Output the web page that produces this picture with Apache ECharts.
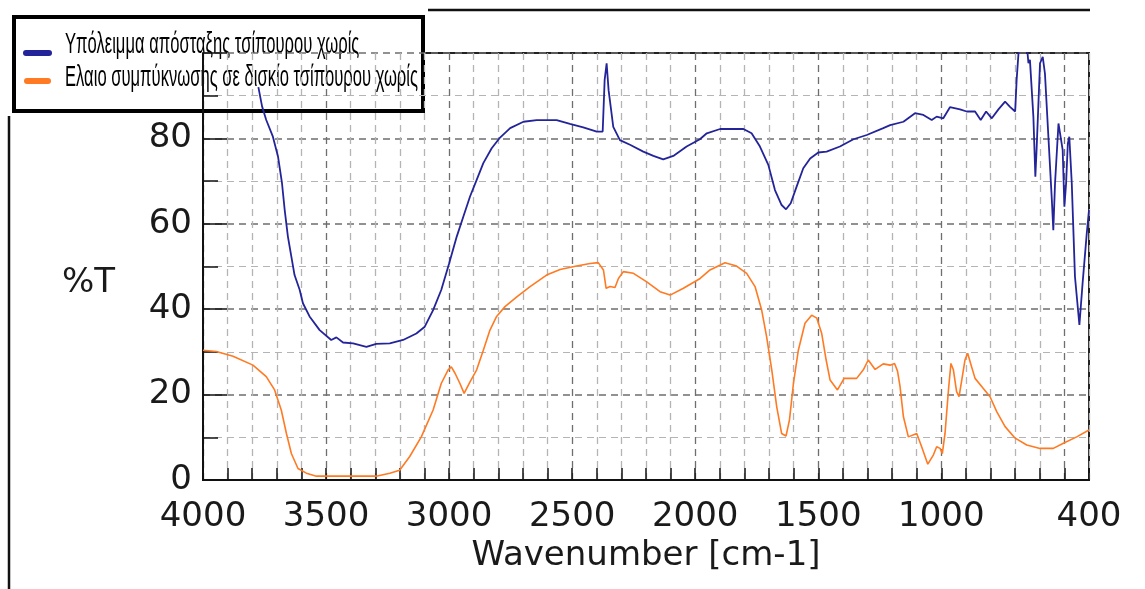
<!DOCTYPE html>
<html><head><meta charset="utf-8">
<script src="https://cdn.jsdelivr.net/npm/echarts@6/dist/echarts.min.js"></script>
<style>html,body{margin:0;padding:0;background:#fff}#c{width:1145px;height:589px}</style>
</head><body><div id="c"></div>
<script>
// ---- data ----
const seriesNames = ['Υπόλειμμα απόσταξης τσίπουρου χωρίς', 'Ελαιο συμπύκνωσης σε δισκίο τσίπουρου χωρίς'];
const seriesColors = ['#24249a', '#ff7a22'];
const residueWavenumber = [3775,3760,3743,3716,3695,3679,3668,3655,3641,3628,3607,3594,3567,3526,3479,3458,3431,3390,3336,3296,3241,3187,3133,3099,3065,3032,3000,2969,2942,2915,2888,2861,2827,2793,2752,2698,2644,2563,2509,2455,2400,2376,2368,2360,2352,2333,2306,2265,2211,2170,2130,2089,2035,1981,1953,1899,1804,1771,1737,1703,1676,1649,1631,1612,1588,1561,1533,1500,1466,1412,1357,1303,1236,1208,1154,1107,1073,1039,1019,992,965,924,897,863,840,818,795,768,741,721,700,694,684,653,646,640,626,618,613,599,588,579,565,551,545,538,524,518,507,500,493,486,480,470,457,439,426,409,400];
const residueT = [92,87.5,84.3,80.4,75.7,69.5,63.2,57.0,52.3,48.0,44.5,41.4,38.3,35.1,32.8,33.4,32.2,32.0,31.2,31.9,32.0,32.8,34.3,35.9,39.8,44.5,50.7,57.0,61.7,66.4,70.3,74.2,77.7,80.2,82.4,83.9,84.3,84.3,83.4,82.6,81.6,81.6,93.7,97.6,91.3,82.7,79.6,78.5,76.9,75.9,75.1,75.9,78.1,79.8,81.2,82.2,82.2,81.2,78.1,73.8,67.9,64.4,63.4,64.8,68.7,73.0,75.3,76.7,76.9,78.1,79.8,80.8,82.4,83.1,83.9,85.9,85.5,84.3,85.1,84.7,87.3,86.8,86.3,86.3,84.3,86.3,84.7,86.8,88.6,87.4,86.3,93.7,102,102,97.6,98.4,85.1,71.0,77.3,97.6,99.1,95.2,80.4,65.6,58.5,69.5,83.5,83.9,77.3,64.0,69.5,78.8,80.4,69.5,47.6,36.3,46.1,57.8,63.2];
const oilWavenumber = [4000,3946,3878,3797,3743,3709,3682,3661,3641,3614,3580,3539,3458,3296,3241,3201,3160,3113,3065,3032,3004,2991,2976,2956,2939,2915,2888,2861,2834,2807,2773,2725,2671,2604,2549,2482,2427,2394,2373,2362,2346,2326,2312,2292,2251,2197,2143,2102,2048,1980,1940,1879,1832,1791,1757,1730,1710,1689,1669,1649,1631,1617,1601,1581,1554,1527,1506,1486,1468,1452,1422,1395,1344,1317,1297,1269,1236,1208,1190,1178,1168,1154,1134,1100,1080,1055,1032,1019,1005,996,985,971,961,951,938,928,917,904,893,881,863,836,802,775,741,700,653,599,545,504,450,400];
const oilT = [30.4,30.1,29.0,26.9,24.2,21.1,16.4,10.9,6.2,2.7,1.6,0.9,0.9,0.9,1.6,2.3,5.5,10.1,16.4,22.6,25.8,26.5,25.0,22.6,20.3,23.0,25.8,30.4,35.1,38.3,40.6,42.9,45.3,48.0,49.3,50.1,50.7,50.9,49.2,44.9,45.3,45.1,47.2,48.8,48.4,46.4,44.1,43.3,44.9,47.2,49.2,50.9,50.1,48.4,45.3,39.8,33.6,25.8,17.2,10.9,10.3,14.1,22.6,30.4,36.7,38.6,37.9,34.3,28.1,23.4,21.1,23.8,23.8,25.8,28.1,25.9,27.2,26.9,27.3,25.5,22.0,14.8,10.1,10.9,7.8,3.7,5.9,7.8,7.4,6.2,10.9,21.1,27.3,25.8,20.7,19.5,23.4,28.1,29.7,27.3,23.8,21.9,19.5,16.0,12.5,9.8,8.2,7.4,7.4,8.6,10.1,11.7];
const xTickLabels = [4000,3500,3000,2500,2000,1500,1000,400];
const yTickLabels = [0,20,40,60,80];
const xTitle = 'Wavenumber [cm-1]';
const yTitle = '%T';

const zip = (a, b) => a.map((v, i) => [v, b[i]]);
const axisFont = 'DejaVu Sans, Liberation Sans, sans-serif';
const dark = '#6e6e6e', light = '#b4b4b4';

// condensed legend text: scale the font horizontally to the reference's width
const legendFont = '30px "Liberation Sans", Arial, sans-serif';
const mctx = document.createElement('canvas').getContext('2d');
mctx.font = legendFont;
const legendScale = 353 / mctx.measureText(seriesNames[1]).width;

const chart = echarts.init(document.getElementById('c'), null, {renderer: 'canvas'});
chart.setOption({
  animation: false,
  backgroundColor: '#fff',
  grid: {left: 203, right: 56, top: 53, bottom: 109, show: true, borderColor: '#222', borderWidth: 2, backgroundColor: 'transparent'},
  xAxis: {
    type: 'value', inverse: true, min: 400, max: 4000, interval: 100,
    name: xTitle, nameLocation: 'middle', nameGap: 58,
    nameTextStyle: {fontFamily: axisFont, fontSize: 34, color: '#1a1a1a'},
    axisLine: {show: true, lineStyle: {color: '#111', width: 2}},
    axisTick: {show: true, inside: true, length: 12, lineStyle: {color: '#111', width: 1.5}},
    axisLabel: {margin: 20, fontFamily: axisFont, fontSize: 34, color: '#1a1a1a',
      formatter: v => xTickLabels.indexOf(v) >= 0 ? String(v) : ''},
    splitLine: {show: true, lineStyle: {color: [light, dark, light, light, light], type: [7, 5], width: 1.3}}
  },
  yAxis: {
    type: 'value', min: 0, max: 100, interval: 20,
    name: yTitle, nameLocation: 'middle', nameRotate: 0, nameGap: 88,
    nameTextStyle: {fontFamily: axisFont, fontSize: 34, color: '#1a1a1a', verticalAlign: 'top'},
    axisLine: {show: true, lineStyle: {color: '#111', width: 2}},
    axisTick: {show: true, inside: true, length: 24, lineStyle: {color: '#111', width: 1.5}},
    minorTick: {show: true, splitNumber: 2, length: 15, lineStyle: {color: '#111', width: 1.5}},
    axisLabel: {margin: 11, fontFamily: axisFont, fontSize: 34, color: '#1a1a1a',
      formatter: v => yTickLabels.indexOf(v) >= 0 ? String(v) : ''},
    splitLine: {show: true, lineStyle: {color: dark, type: [7, 5], width: 1.5}},
    minorSplitLine: {show: true, lineStyle: {color: light, type: [7, 5], width: 1.2}}
  },
  graphic: [
    {type: 'line', shape: {x1: 428, y1: 10, x2: 1090, y2: 10}, style: {stroke: '#111', lineWidth: 2.5}},
    {type: 'line', shape: {x1: 9, y1: 116, x2: 9, y2: 589}, style: {stroke: '#111', lineWidth: 2.5}},
    {type: 'group', z: 100, children: [
      {type: 'rect', shape: {x: 14, y: 17, width: 409, height: 94}, style: {fill: '#fff', stroke: '#000', lineWidth: 4}},
      {type: 'rect', shape: {x: 23, y: 50, width: 29, height: 6, r: 3}, style: {fill: seriesColors[0]}},
      {type: 'rect', shape: {x: 24, y: 78, width: 27, height: 6, r: 3}, style: {fill: seriesColors[1]}},
      {type: 'text', x: 65, y: 45, scaleX: legendScale, style: {text: seriesNames[0], font: legendFont, fill: '#000', verticalAlign: 'middle'}},
      {type: 'text', x: 65, y: 78, scaleX: legendScale, style: {text: seriesNames[1], font: legendFont, fill: '#000', verticalAlign: 'middle'}}
    ]}
  ],
  series: [
    {name: seriesNames[0], type: 'line', data: zip(residueWavenumber, residueT), showSymbol: false, color: seriesColors[0], lineStyle: {width: 1.8}, z: 3},
    {name: seriesNames[1], type: 'line', data: zip(oilWavenumber, oilT), showSymbol: false, color: seriesColors[1], lineStyle: {width: 1.6}, z: 3}
  ]
});
</script></body></html>
